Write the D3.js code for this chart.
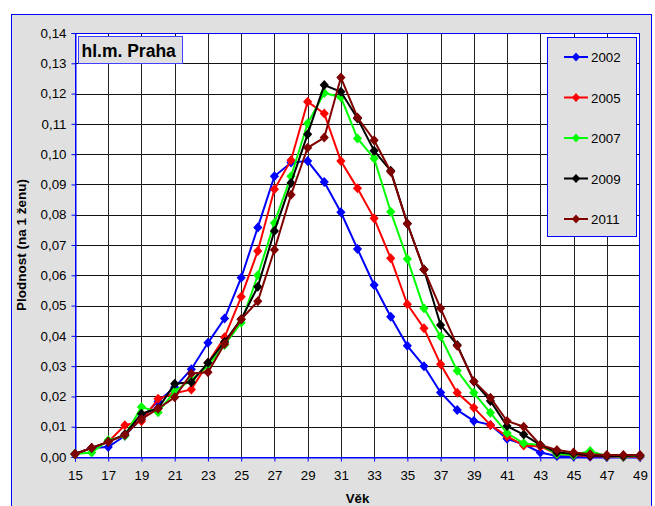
<!DOCTYPE html>
<html><head><meta charset="utf-8">
<script src="https://cdn.jsdelivr.net/npm/d3@7"></script>
<style>html,body{margin:0;padding:0;background:#fff;}svg{display:block;font-family:"Liberation Sans",Arial,sans-serif;}</style>
</head><body>
<svg id="c" width="655" height="506"></svg>
<script>
const ages = d3.range(15, 50);
const seriesNames = ["2002", "2005", "2007", "2009", "2011"];
const seriesColors = ["#0000ff", "#ff0000", "#00ff00", "#000000", "#800000"];
const v2002 = [0.001,0.003,0.0033,0.007,0.013,0.0183,0.023,0.029,0.0377,0.0457,0.0592,0.0758,0.0927,0.0972,0.0977,0.0908,0.0808,0.0687,0.0568,0.0463,0.0367,0.030,0.0213,0.0155,0.0119,0.0106,0.006,0.0042,0.0015,0.0003,0.0002,0.0001,0,0,0];
const v2005 = [0.001,0.003,0.005,0.0105,0.0118,0.0192,0.021,0.0223,0.031,0.0395,0.0529,0.068,0.0884,0.098,0.1173,0.1134,0.0977,0.0887,0.0788,0.0656,0.0504,0.0425,0.0306,0.0212,0.0163,0.0106,0.0068,0.0038,0.0035,0.001,0.0006,0.0003,0.0002,0.0001,0.0002];
const v2007 = [0.001,0.0015,0.0055,0.007,0.0165,0.0148,0.0217,0.0255,0.030,0.037,0.0443,0.060,0.0773,0.0927,0.1101,0.1202,0.1188,0.1052,0.0986,0.081,0.0654,0.0491,0.0398,0.0285,0.0212,0.0146,0.0079,0.0045,0.004,0.001,0.0007,0.002,0.0003,0.0002,0.0004];
const v2009 = [0.001,0.003,0.005,0.0075,0.0143,0.016,0.0242,0.0247,0.0311,0.038,0.0455,0.0562,0.0746,0.0905,0.1066,0.1228,0.1206,0.1118,0.1011,0.0945,0.0771,0.0619,0.0436,0.037,0.0249,0.0185,0.0102,0.0074,0.004,0.0015,0.0011,0.0005,0.0003,0.0003,0.0005];
const v2011 = [0.001,0.003,0.005,0.0073,0.0125,0.016,0.0197,0.0276,0.028,0.0373,0.0455,0.0514,0.0684,0.0866,0.1021,0.1055,0.1253,0.1121,0.1046,0.0942,0.077,0.0619,0.0491,0.0367,0.025,0.0196,0.0119,0.010,0.004,0.0023,0.0015,0.0009,0.0007,0.0007,0.0007];
const seriesValues = [v2002, v2005, v2007, v2009, v2011];
const yTicks = d3.range(0, 15).map(i => i / 100);
const xTicks = d3.range(15, 50, 2);
const title = "hl.m. Praha";
const yTitle = "Plodnost (na 1 ženu)";
const xTitle = "Věk";

const svg = d3.select("#c");
const L = 75, R = 640, T = 33, B = 457;
const x = d3.scaleLinear().domain([15, 49]).range([L, R]);
const y = d3.scaleLinear().domain([0, 0.14]).range([B, T]);
const fmt = d => d3.format(".2f")(d).replace(".", ",");

// outer frame
svg.append("rect").attr("x", 11.5).attr("y", 14.5).attr("width", 640).attr("height", 500)
  .attr("fill", "#e0e0e0").attr("stroke", "#0000ff").attr("stroke-width", 1);
// plot area
svg.append("rect").attr("x", L).attr("y", T).attr("width", R - L).attr("height", B - T).attr("fill", "#fff");

// grid
const g = svg.append("g").attr("shape-rendering", "crispEdges");
g.selectAll(".hg").data(yTicks.filter(d => d > 0)).join("line")
  .attr("x1", L).attr("x2", R).attr("y1", d => Math.round(y(d)) + 0.5).attr("y2", d => Math.round(y(d)) + 0.5)
  .attr("stroke", "#111").attr("stroke-width", 1);
g.selectAll(".vg").data(xTicks.filter(d => d > 15 && d < 49)).join("line")
  .attr("y1", T).attr("y2", B).attr("x1", d => Math.round(x(d)) + 0.5).attr("x2", d => Math.round(x(d)) + 0.5)
  .attr("stroke", "#222").attr("stroke-width", 1);

// plot border
svg.append("rect").attr("x", L + 0.5).attr("y", T + 0.5).attr("width", R - L - 1).attr("height", B - T)
  .attr("fill", "none").attr("stroke", "#0000ff").attr("stroke-width", 1).attr("shape-rendering", "crispEdges");

// axes
const yAxis = d3.axisLeft(y).tickValues(yTicks).tickFormat(fmt).tickSize(4).tickPadding(5);
const ya = svg.append("g").attr("transform", `translate(${L + 0.5},0)`).call(yAxis);
const xAxis = d3.axisBottom(x).tickValues(xTicks).tickFormat(d3.format("d")).tickSize(4).tickPadding(9);
const xa = svg.append("g").attr("transform", `translate(0,${B + 0.5})`).call(xAxis);
[ya, xa].forEach(a => {
  a.select(".domain").attr("stroke", "#0000ff");
  a.selectAll(".tick line").attr("stroke", "#0000ff");
  a.selectAll(".tick text").attr("fill", "#000").style("font-size", "13.3px").style("font-family", '"Liberation Sans",Arial,sans-serif');
});

// series
const line = d3.line().x((d, i) => x(ages[i])).y(d => y(d));
const diamondPath = "M0,-5L4.6,0L0,5L-4.6,0Z";
seriesValues.forEach((vals, si) => {
  const col = seriesColors[si];
  const sg = svg.append("g");
  sg.append("path").datum(vals).attr("d", line).attr("fill", "none").attr("stroke", col).attr("stroke-width", 2);
  sg.selectAll("path.m").data(vals).join("path").attr("class", "m")
    .attr("d", diamondPath).attr("transform", (d, i) => `translate(${x(ages[i])},${y(d)})`).attr("fill", col);
});

// title box
svg.append("rect").attr("x", 78.5).attr("y", 36.5).attr("width", 104).attr("height", 27)
  .attr("fill", "#e0e0e0").attr("stroke", "#4040ff").attr("stroke-width", 1);
svg.append("text").attr("x", 81.5).attr("y", 57).text(title)
  .style("font-weight", "bold").style("font-size", "17.5px").attr("fill", "#000");

// legend
svg.append("rect").attr("x", 547.5).attr("y", 37.5).attr("width", 89).attr("height", 199)
  .attr("fill", "#e0e0e0").attr("stroke", "#0000ff").attr("stroke-width", 1);
seriesNames.forEach((n, i) => {
  const ly = 57 + i * 40.5;
  svg.append("line").attr("x1", 564).attr("x2", 588).attr("y1", ly).attr("y2", ly)
    .attr("stroke", seriesColors[i]).attr("stroke-width", 2);
  svg.append("path").attr("d", "M0,-4.5L4.2,0L0,4.5L-4.2,0Z").attr("transform", `translate(576,${ly})`).attr("fill", seriesColors[i]);
  svg.append("text").attr("x", 591).attr("y", ly + 5).text(n).style("font-size", "13.3px").attr("fill", "#000");
});

// axis titles
svg.append("text").attr("x", (L + R) / 2).attr("y", 503).attr("text-anchor", "middle").text(xTitle)
  .style("font-weight", "bold").style("font-size", "13.3px");
svg.append("text").attr("transform", `translate(26,${(T + B) / 2}) rotate(-90)`).attr("text-anchor", "middle").text(yTitle)
  .style("font-weight", "bold").style("font-size", "13.5px");
</script>
</body></html>
